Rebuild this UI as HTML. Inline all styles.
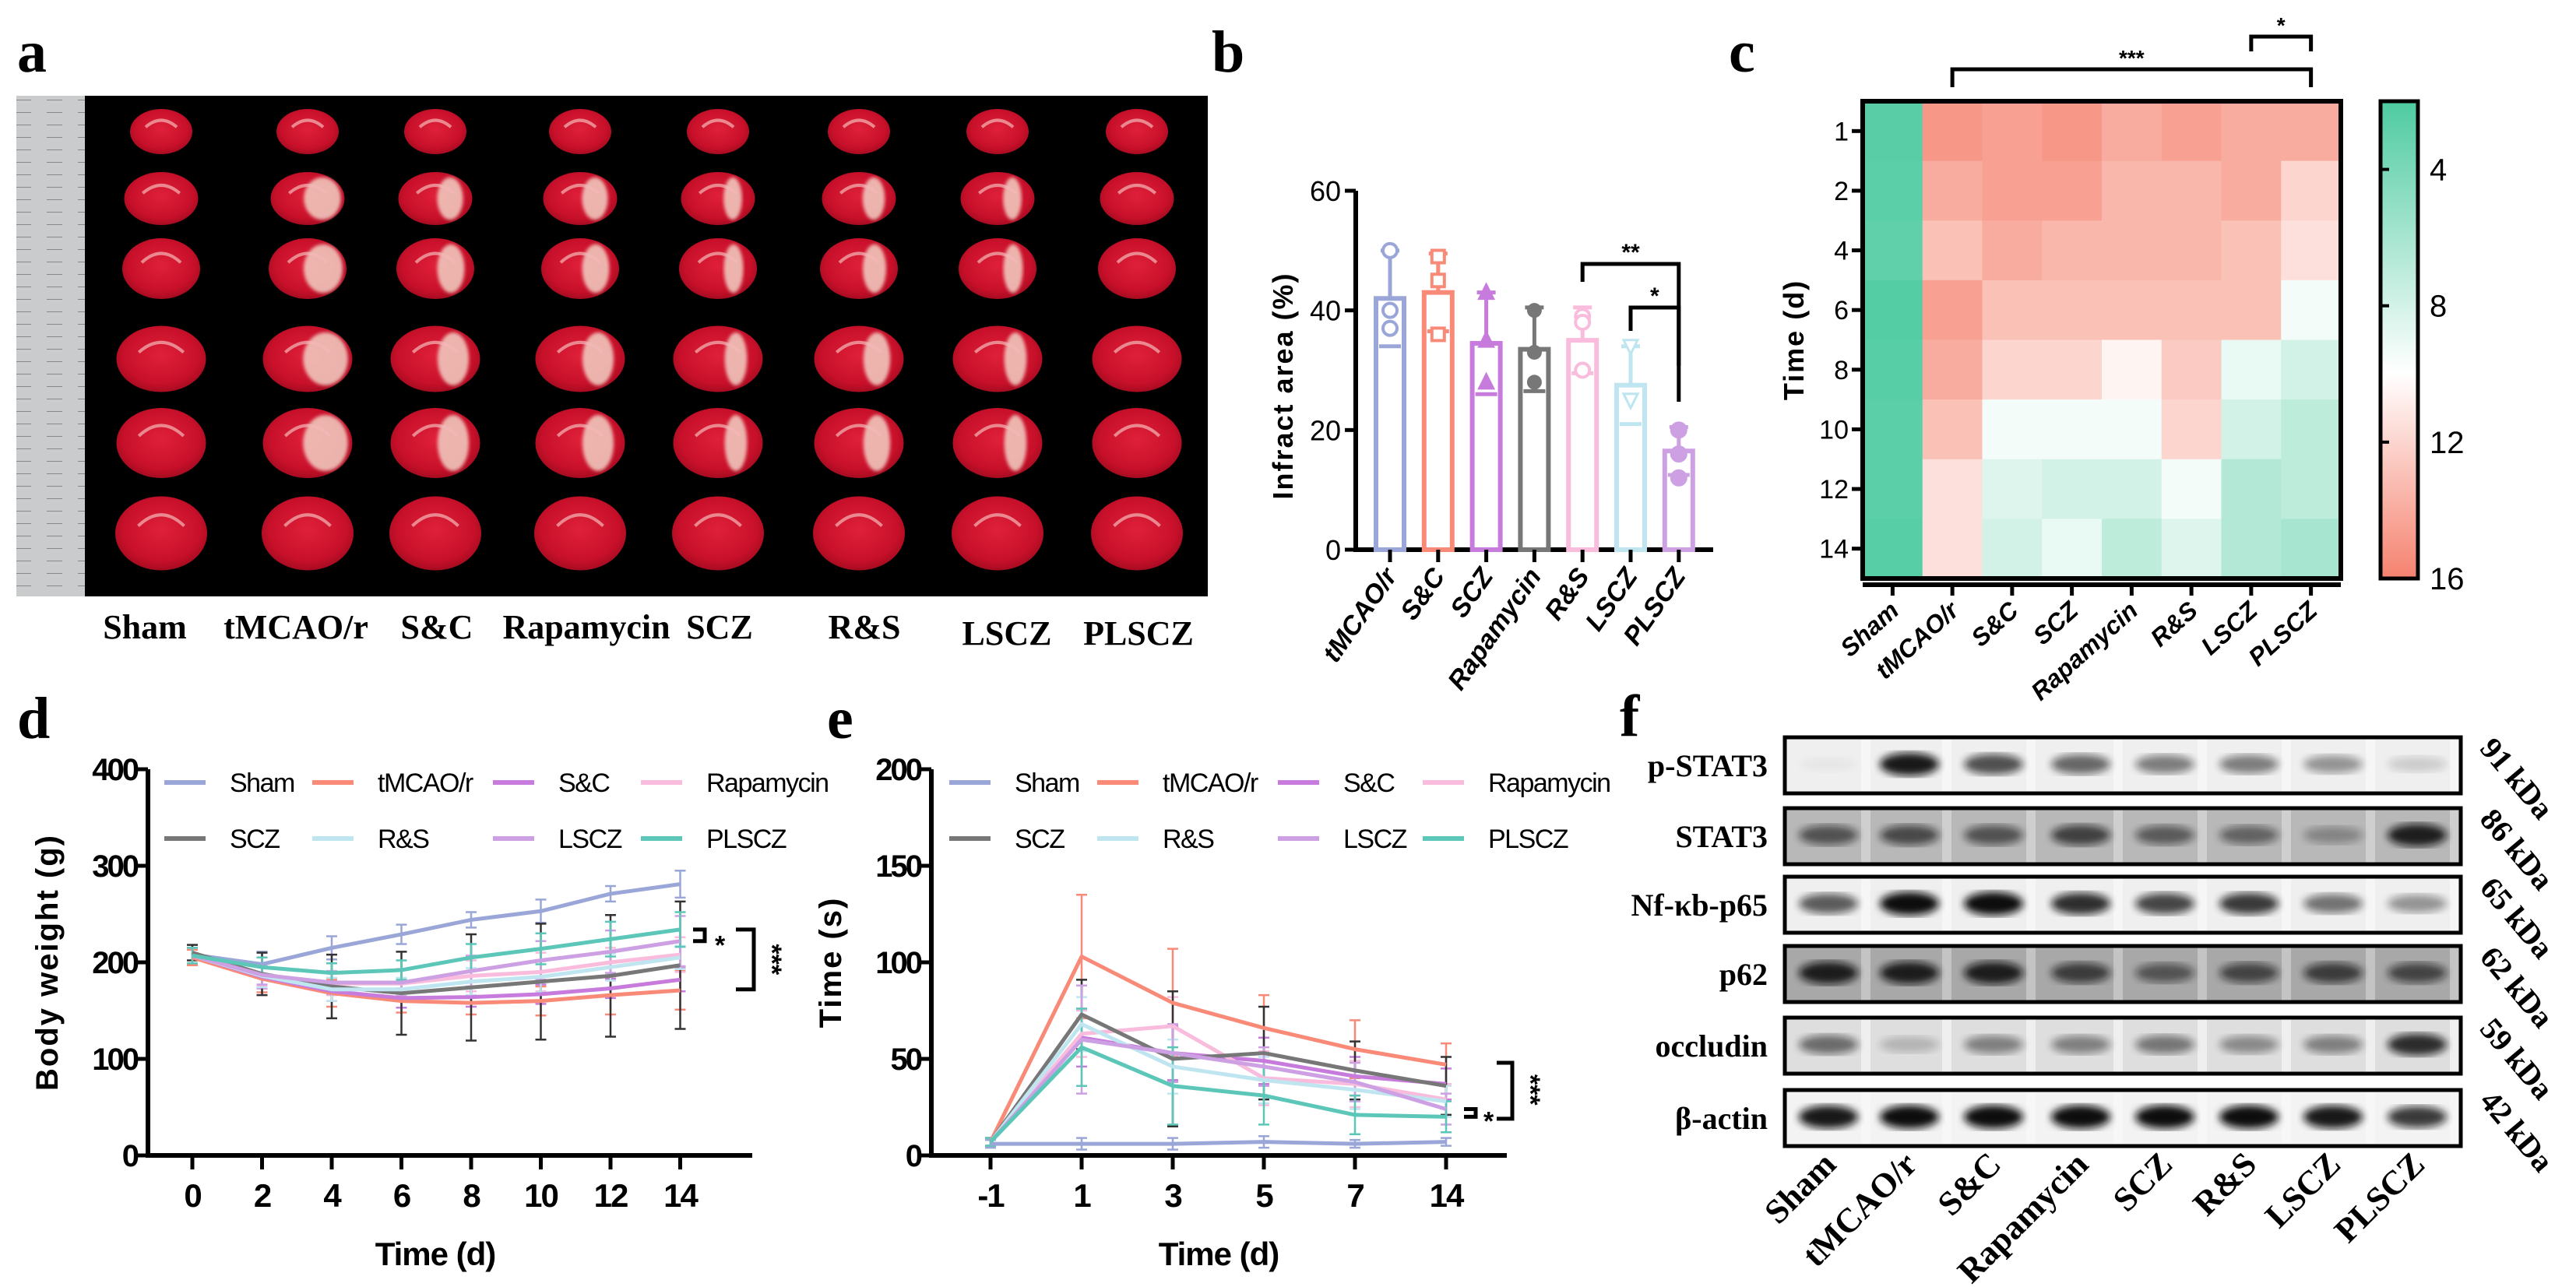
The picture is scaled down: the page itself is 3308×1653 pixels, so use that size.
<!DOCTYPE html>
<html><head><meta charset="utf-8"><style>
html,body{margin:0;padding:0;background:#fff;}
svg{display:block;}
text{font-family:"Liberation Sans",sans-serif;}
.serif{font-family:"Liberation Serif",serif;font-weight:bold;}
</style></head><body>
<svg id="fig" xmlns="http://www.w3.org/2000/svg" width="3308" height="1653" viewBox="0 0 3308 1653">
<defs>
<radialGradient id="brainG" cx="50%" cy="45%" r="60%"><stop offset="0" stop-color="#e0203a"/><stop offset="0.7" stop-color="#c8102a"/><stop offset="1" stop-color="#9a0a1e"/></radialGradient>
<linearGradient id="cbar" x1="0" y1="0" x2="0" y2="1"><stop offset="0" stop-color="#4ecba0"/><stop offset="0.57" stop-color="#ffffff"/><stop offset="1" stop-color="#f5826f"/></linearGradient>
<filter id="blur4"><feGaussianBlur stdDeviation="5"/></filter>
<filter id="blur2"><feGaussianBlur stdDeviation="2"/></filter>
<pattern id="ruler" width="40" height="16" patternUnits="userSpaceOnUse"><rect width="40" height="16" fill="#c9cbcc"/><line x1="20" y1="0" x2="40" y2="0" stroke="#888" stroke-width="2"/></pattern>
</defs>
<g id="panelA">
<text class="serif" x="22" y="92" font-size="76">a</text>
<rect x="21" y="123" width="1530" height="643" fill="#000"/>
<rect x="21" y="123" width="88" height="643" fill="url(#ruler)"/>
</g>
<g id="panelB"><text class="serif" x="1556" y="92" font-size="76">b</text></g>
<g id="panelC"><text class="serif" x="2220" y="92" font-size="76">c</text></g>
<g id="panelD"><text class="serif" x="22" y="948" font-size="76">d</text></g>
<g id="panelE"><text class="serif" x="1062" y="948" font-size="76">e</text></g>
<g id="panelF"><text class="serif" x="2080" y="945" font-size="76">f</text></g>
</svg>
<script>
const NS='http://www.w3.org/2000/svg';
function mk(tag,attrs,parent){const e=document.createElementNS(NS,tag);for(const k in attrs)e.setAttribute(k,attrs[k]);parent.appendChild(e);return e;}
const groups=['Sham','tMCAO/r','S&C','Rapamycin','SCZ','R&S','LSCZ','PLSCZ'];
const colors=['#9aa6d8','#f98a78','#c77bdc','#f9bcdc','#777777','#bfe6f0','#cda0e4','#5cc7b8'];

/* ---------- Panel A: brain photo ---------- */
const gA=document.getElementById('panelA');
const brainCols=[207,395,559,745,922,1103,1281,1460];
const brainRows=[169,255,345,461,569,685];
const brainW=[80,95,100,115,115,118];
const brainH=[58,68,78,85,90,95];
const infarct=[0,1,0.7,0.7,0.5,0.6,0.5,0.3];
for(let c=0;c<8;c++){for(let r=0;r<6;r++){
 const cx=brainCols[c],cy=brainRows[r];
 const b=mk('ellipse',{cx:cx,cy:cy,rx:brainW[r]/2,ry:brainH[r]/2,fill:'url(#brainG)'},gA);
 
 
 if(infarct[c]>0.4&&r>0&&r<5){
  const p=mk('ellipse',{cx:cx+brainW[r]*0.2,cy:cy,rx:brainW[r]*0.25*infarct[c],ry:brainH[r]*0.4,fill:'#f2d0c4',opacity:0.85,filter:'url(#blur2)'},gA);
  
  
 }
 const l=mk('path',{d:`M${cx-brainW[r]*0.25} ${cy-brainH[r]*0.1} q${brainW[r]*0.25} ${-brainH[r]*0.3} ${brainW[r]*0.5} 0`,stroke:'#f3b8b8',"stroke-width":4,fill:'none',opacity:0.7},gA);
 
 
}}
const aLabelX=[186,380,561,753,924,1110,1293,1462];
const aLabelY=[820,820,820,820,820,820,828,828];
for(let i=0;i<8;i++){
 const t=mk('text',{x:aLabelX[i],y:aLabelY[i],'text-anchor':'middle','font-size':44,class:'serif'},gA);
 t.textContent=groups[i];
 
 
}

/* ---------- Panel B: bar chart ---------- */
const bCats=['tMCAO/r','S&C','SCZ','Rapamycin','R&S','LSCZ','PLSCZ'];
const bMeans=[42,43,34.5,33.5,35,27.5,16.5];
const bSD=[8,6.5,8.5,7,5.5,6.5,4];
const bPts=[[50,40,37],[49,45,36],[43,35,28],[40,33,28],[39,38,30],[34,25,25],[20,16,12]];
const bTicks=[0,20,40,60];
const gB=document.getElementById('panelB');
const bX0=1785,bStep=61.8,bY0=706,bYtop=245;
const yB=v=>bY0-v/60*(bY0-bYtop);
const xB=i=>bX0+i*bStep;
let e=mk('path',{d:`M1741 ${bYtop} V${bY0} H2200`,stroke:'#000','stroke-width':6,fill:'none'},gB);


bTicks.forEach(v=>{
 const l=mk('line',{x1:1727,x2:1741,y1:yB(v),y2:yB(v),stroke:'#000','stroke-width':5},gB);
 
 
 const t=mk('text',{x:1722,y:yB(v)+13,'text-anchor':'end','font-size':36},gB);
 t.textContent=v;
 
 
});
e=mk('text',{x:0,y:0,'text-anchor':'middle','font-size':36,'font-weight':'bold',transform:`translate(1660,${(bY0+bYtop)/2+20}) rotate(-90)`,'letter-spacing':2},gB);
e.textContent='Infract area (%)';


const bCol=['#9aa6d8','#f98a78','#c77bdc','#777777','#f9bcdc','#bfe6f0','#cda0e4'];
const markers=['circle','square','tri','diamond','circle','trid','circlef'];
bCats.forEach((c,i)=>{
 const x=xB(i),col=bCol[i];
 const r=mk('rect',{x:x-18,y:yB(bMeans[i]),width:36,height:bY0-yB(bMeans[i]),fill:'#fff',stroke:col,'stroke-width':6},gB);
 
 
 const eb=mk('path',{d:`M${x} ${yB(bMeans[i])} V${yB(bMeans[i]+bSD[i])} M${x-12} ${yB(bMeans[i]+bSD[i])} H${x+12} M${x-14} ${yB(bMeans[i]-bSD[i])} H${x+14}`,stroke:col,'stroke-width':5,fill:'none'},gB);
 
 
 bPts[i].forEach(p=>{
  const y=yB(p);let m;
  if(markers[i]==='square')m=mk('rect',{x:x-8,y:y-8,width:16,height:16,fill:'#fff',stroke:col,'stroke-width':4},gB);
  else if(markers[i]==='tri')m=mk('path',{d:`M${x} ${y-10} L${x+9} ${y+8} L${x-9} ${y+8}Z`,fill:col,stroke:col,'stroke-width':3},gB);
  else if(markers[i]==='trid')m=mk('path',{d:`M${x} ${y+10} L${x+9} ${y-8} L${x-9} ${y-8}Z`,fill:'#fff',stroke:col,'stroke-width':3},gB);
  else if(markers[i]==='diamond')m=mk('circle',{cx:x,cy:y,r:8,fill:col,stroke:col,'stroke-width':3},gB);
  else m=mk('circle',{cx:x,cy:y,r:9,fill:markers[i]==='circlef'?col:'#fff',stroke:col,'stroke-width':4},gB);
  
  
 });
 const tk=mk('line',{x1:x,x2:x,y1:bY0,y2:bY0+16,stroke:'#000','stroke-width':5},gB);
 
 
 const t=mk('text',{x:0,y:0,'text-anchor':'end','font-size':34,'font-weight':'bold','font-style':'italic',transform:`translate(${x+10},${bY0+34}) rotate(-55)`},gB);
 t.textContent=c;
 
 
});
e=mk('path',{d:`M${xB(4)} 362 V339 H${xB(6)} V470`,stroke:'#000','stroke-width':5,fill:'none'},gB);


e=mk('text',{x:(xB(4)+xB(6))/2,y:334,'text-anchor':'middle','font-size':30,'font-weight':'bold'},gB);e.textContent='**';


e=mk('path',{d:`M${xB(5)} 425 V395 H${xB(6)} V516`,stroke:'#000','stroke-width':5,fill:'none'},gB);


e=mk('text',{x:(xB(5)+xB(6))/2,y:390,'text-anchor':'middle','font-size':30,'font-weight':'bold'},gB);e.textContent='*';



/* ---------- Panel C: heatmap ---------- */
const hCols=['Sham','tMCAO/r','S&C','SCZ','Rapamycin','R&S','LSCZ','PLSCZ'];
const hRows=['1','2','4','6','8','10','12','14'];
const hVals=[
 [2.5,15,14.5,15,14,14.5,14,14],
 [2.6,14,14.5,14.5,13.5,13.5,14,12],
 [2.8,13,14,13.5,13.5,13.5,13,11.5],
 [2.3,14.5,13,13,13,13,13,9.5],
 [2.4,14,12,12,10.5,12.5,9,8],
 [2.6,13,9.5,9.5,9.5,12,8,7],
 [2.6,11.5,8.5,8,8,9.5,6.5,7],
 [2.4,11.5,8,9,7,8.5,6.5,6]];
const cbTicks=[4,8,12,16];
const gC=document.getElementById('panelC');
const hx0=2392,hy0=130,hw=614,hh=613,cw=hw/8,ch=hh/8;
function hcol(v){
 const lerp=(a,b,t)=>Math.round(a+(b-a)*t);
 if(v<=10){const t=Math.max(0,(v-2)/8);return `rgb(${lerp(78,255,t)},${lerp(203,255,t)},${lerp(160,255,t)})`;}
 const t=Math.min(1,(v-10)/6);return `rgb(${lerp(255,245,t)},${lerp(255,130,t)},${lerp(255,111,t)})`;
}
hVals.forEach((row,r)=>row.forEach((v,c)=>{
 const cell=mk('rect',{x:hx0+c*cw,y:hy0+r*ch,width:cw+0.5,height:ch+0.5,fill:hcol(v)},gC);
 
 
}));
e=mk('rect',{x:hx0,y:hy0,width:hw,height:hh,fill:'none',stroke:'#000','stroke-width':6},gC);


hRows.forEach((lab,r)=>{
 const y=hy0+(r+0.5)*ch;
 const l=mk('line',{x1:hx0-14,x2:hx0,y1:y,y2:y,stroke:'#000','stroke-width':5},gC);
 
 
 const t=mk('text',{x:hx0-18,y:y+12,'text-anchor':'end','font-size':34},gC);t.textContent=lab;
 
 
});
hCols.forEach((lab,c)=>{
 const x=hx0+(c+0.5)*cw;
 const l=mk('line',{x1:x,x2:x,y1:hy0+hh+6,y2:hy0+hh+22,stroke:'#000','stroke-width':5},gC);
 
 
 const t=mk('text',{x:0,y:0,'text-anchor':'end','font-size':32,'font-weight':'bold','font-style':'italic',transform:`translate(${x+10},${hy0+hh+44}) rotate(-42)`},gC);t.textContent=lab;
 
 
});
e=mk('path',{d:`M${hx0} ${hy0+hh+8} H${hx0+hw}`,stroke:'#000','stroke-width':6},gC);


e=mk('text',{x:0,y:0,'text-anchor':'middle','font-size':36,'font-weight':'bold','letter-spacing':2,transform:`translate(2316,${hy0+hh/2}) rotate(-90)`},gC);e.textContent='Time (d)';


e=mk('rect',{x:3057,y:hy0,width:48,height:hh,fill:'url(#cbar)',stroke:'#000','stroke-width':5},gC);


const cbY=v=>hy0+(v-2)/14*hh;
cbTicks.forEach(v=>{
 const l=mk('line',{x1:3057,x2:3068,y1:cbY(v),y2:cbY(v),stroke:'#000','stroke-width':4},gC);
 
 
 const t=mk('text',{x:3120,y:cbY(v)+14,'font-size':40},gC);t.textContent=v;
 
 
});
const cmx=i=>hx0+(i+0.5)*cw;
e=mk('path',{d:`M${cmx(1)} 112 V89 H${cmx(7)} V112`,stroke:'#000','stroke-width':5,fill:'none'},gC);


e=mk('text',{x:(cmx(1)+cmx(7))/2,y:84,'text-anchor':'middle','font-size':28,'font-weight':'bold'},gC);e.textContent='***';


e=mk('path',{d:`M${cmx(6)} 66 V47 H${cmx(7)} V66`,stroke:'#000','stroke-width':5,fill:'none'},gC);


e=mk('text',{x:(cmx(6)+cmx(7))/2,y:42,'text-anchor':'middle','font-size':28,'font-weight':'bold'},gC);e.textContent='*';



/* ---------- Panel D: body weight ---------- */
const dX=['0','2','4','6','8','10','12','14'];
const dYTicks=[0,100,200,300,400];
const dSham=[208,198,215,229,244,253,271,281];
const dTmcao=[205,183,168,160,158,160,166,171];
const dSC=[207,185,170,163,164,167,173,182];
const dRapa=[207,186,178,178,186,190,200,208];
const dSCZ=[210,188,175,168,174,180,186,197];
const dRS=[207,186,172,172,180,185,195,205];
const dLSCZ=[207,187,179,179,191,202,211,222];
const dPLSCZ=[207,195,189,192,205,214,224,234];
const dErr=[
 [10,13,12,10,8,12,8,14],
 [8,14,14,12,12,15,20,20],
 [8,12,10,10,10,10,10,12],
 [8,10,12,14,16,20,15,18],
 [8,22,33,43,55,60,63,66],
 [8,12,12,12,14,16,14,12],
 [8,10,12,14,16,20,22,26],
 [8,10,10,10,14,16,18,18]];
const dSeries=[dSham,dTmcao,dSC,dRapa,dSCZ,dRS,dLSCZ,dPLSCZ];

/* ---------- Panel E: latency ---------- */
const eX=['-1','1','3','5','7','14'];
const eYTicks=[0,50,100,150,200];
const eSham=[6,6,6,7,6,7];
const eTmcao=[7,103,79,66,55,47];
const eSC=[7,61,53,49,41,37];
const eRapa=[7,63,67,40,37,29];
const eSCZ=[7,73,50,53,44,36];
const eRS=[7,68,46,39,34,28];
const eLSCZ=[7,60,53,46,38,24];
const ePLSCZ=[7,56,36,31,21,20];
const eErr=[
 [2,3,3,3,2,2],
 [2,32,28,17,15,11],
 [2,15,14,12,10,8],
 [2,12,15,14,12,8],
 [2,18,35,24,15,15],
 [2,14,14,12,10,8],
 [2,28,15,10,10,8],
 [2,20,20,15,10,8]];
const eSeries=[eSham,eTmcao,eSC,eRapa,eSCZ,eRS,eLSCZ,ePLSCZ];

function lineChart(g,cfg){
 const {ax,ay0,ay1,axEnd,x0,xStep,yMax,xLabels,yTicks,series,errs,pref,legX,ytitle}=cfg;
 const yS=v=>ay0-v/yMax*(ay0-ay1);
 const xS=i=>x0+i*xStep;
 let a=mk('path',{d:`M${ax} ${ay1} V${ay0} H${axEnd}`,stroke:'#000','stroke-width':6,fill:'none'},g);
 
 
 yTicks.forEach(v=>{
  const l=mk('line',{x1:ax-16,x2:ax,y1:yS(v),y2:yS(v),stroke:'#000','stroke-width':5},g);
  
  
  const t=mk('text',{x:ax-14,y:yS(v)+14,'text-anchor':'end','font-size':40,'font-weight':'bold','letter-spacing':-3},g);t.textContent=v;
  
  
 });
 xLabels.forEach((lab,i)=>{
  const l=mk('line',{x1:xS(i),x2:xS(i),y1:ay0,y2:ay0+18,stroke:'#000','stroke-width':5},g);
  
  
  const t=mk('text',{x:xS(i),y:ay0+66,'text-anchor':'middle','font-size':42,'font-weight':'bold','letter-spacing':-2},g);t.textContent=lab;
  
  
 });
 series.forEach((s,k)=>{
  s.forEach((v,i)=>{
   const up=yS(v+errs[k][i]),dn=yS(v-errs[k][i]);
   const eb=mk('path',{d:`M${xS(i)} ${up} V${dn} M${xS(i)-7} ${up} H${xS(i)+7} M${xS(i)-7} ${dn} H${xS(i)+7}`,stroke:k===4?'#333':colors[k],'stroke-width':2.5,fill:'none'},g);
   
   
  });
 });
 series.forEach((s,k)=>{
  const p=mk('polyline',{points:s.map((v,i)=>xS(i)+','+yS(v)).join(' '),fill:'none',stroke:colors[k],'stroke-width':5,'stroke-linejoin':'round'},g);
  
  
 });
 groups.forEach((gname,k)=>{
  const lx=legX[k%4],ly=k<4?1005:1077;
  const l=mk('line',{x1:lx,x2:lx+53,y1:ly,y2:ly,stroke:colors[k],'stroke-width':6},g);
  
  
  const t=mk('text',{x:lx+84,y:ly+12,'font-size':34,'letter-spacing':-1.5},g);t.textContent=gname;
  
  
 });
 const yt=mk('text',{x:0,y:0,'text-anchor':'middle','font-size':40,'font-weight':'bold','letter-spacing':2,transform:`translate(${cfg.ytx},${(ay0+ay1)/2}) rotate(-90)`},g);yt.textContent=ytitle;
 
 
 const xt=mk('text',{x:cfg.xtx,y:1625,'text-anchor':'middle','font-size':42,'font-weight':'bold','letter-spacing':-1},g);xt.textContent='Time (d)';
 
 
 return yS;
}
const gD=document.getElementById('panelD');
const yD=lineChart(gD,{ax:190,ay0:1484,ay1:988,axEnd:966,x0:247,xStep:89.5,yMax:400,xLabels:dX,yTicks:dYTicks,series:dSeries,errs:dErr,pref:'d',legX:[211,401,633,823],ytitle:'Body weight (g)',ytx:74,xtx:559});
e=mk('path',{d:`M890 ${yD(dPLSCZ[7])} H905 V${yD(dLSCZ[7])} H890`,stroke:'#000','stroke-width':5,fill:'none'},gD);


e=mk('text',{x:918,y:yD(228)+24,'font-size':34,'font-weight':'bold'},gD);e.textContent='*';


e=mk('path',{d:`M945 ${yD(234)} H968 V${yD(172)} H945`,stroke:'#000','stroke-width':5,fill:'none'},gD);


e=mk('text',{x:0,y:0,'font-size':34,'font-weight':'bold','text-anchor':'middle',transform:`translate(980,${yD(203)}) rotate(90)`},gD);e.textContent='***';



const gE=document.getElementById('panelE');
const yE=lineChart(gE,{ax:1196,ay0:1484,ay1:988,axEnd:1935,x0:1272,xStep:117,yMax:200,xLabels:eX,yTicks:eYTicks,series:eSeries,errs:eErr,pref:'e',legX:[1219,1409,1641,1827],ytitle:'Time (s)',ytx:1080,xtx:1565});
e=mk('path',{d:`M1880 ${yE(ePLSCZ[5])} H1895 V${yE(eLSCZ[5])} H1880`,stroke:'#000','stroke-width':5,fill:'none'},gE);


e=mk('text',{x:1905,y:yE(22)+22,'font-size':34,'font-weight':'bold'},gE);e.textContent='*';


e=mk('path',{d:`M1922 ${yE(48)} H1942 V${yE(19)} H1922`,stroke:'#000','stroke-width':5,fill:'none'},gE);


e=mk('text',{x:0,y:0,'font-size':34,'font-weight':'bold','text-anchor':'middle',transform:`translate(1954,${yE(34)}) rotate(90)`},gE);e.textContent='***';



/* ---------- Panel F: western blots ---------- */
const fRows=['p-STAT3','STAT3','Nf-κb-p65','p62','occludin','β-actin'];
const fKda=['91 kDa','86 kDa','65 kDa','62 kDa','59 kDa','42 kDa'];
const fBand=[
 [0.03,0.95,0.7,0.6,0.5,0.5,0.4,0.15],
 [0.6,0.65,0.6,0.7,0.55,0.5,0.3,0.9],
 [0.65,1,1,0.85,0.75,0.8,0.55,0.4],
 [0.9,0.9,0.9,0.7,0.55,0.65,0.7,0.65],
 [0.55,0.2,0.45,0.45,0.5,0.4,0.45,0.85],
 [0.95,1,1,1,1,1,0.95,0.8]];
const fBg=['#efefef','#b8b8b8','#efefef','#a8a8a8','#dedede','#f3f3f3'];
const fTop=[947,1038,1126,1215,1307,1400];
const gF=document.getElementById('panelF');
const laneX=[2348,2452,2560,2672,2780,2888,2996,3104];
fRows.forEach((name,r)=>{
 const y=fTop[r],h=72;
 const bg=mk('rect',{x:2292,y:y,width:868,height:h,fill:fBg[r]},gF);
 
 
 laneX.forEach((lx,i)=>{
  const gap=mk('rect',{x:lx+42,y:y,width:12,height:h,fill:'#fafafa',opacity:r===1||r===3?0.35:0.6},gF);
  
  
  const b=mk('ellipse',{cx:lx,cy:y+h*0.48,rx:38,ry:9+fBand[r][i]*6,fill:'#111',opacity:fBand[r][i],filter:'url(#blur4)'},gF);
  
  
 });
 const fr=mk('rect',{x:2292,y:y,width:868,height:h,fill:'none',stroke:'#000','stroke-width':5},gF);
 
 
 const t=mk('text',{x:2270,y:y+h/2+14,'text-anchor':'end','font-size':40,class:'serif'},gF);t.textContent=name;
 
 
 const k=mk('text',{x:0,y:0,'font-size':40,class:'serif',transform:`translate(3183,${y+15}) rotate(50)`},gF);k.textContent=fKda[r];
 
 
});
groups.forEach((gname,i)=>{
 const t=mk('text',{x:0,y:0,'text-anchor':'end','font-size':44,class:'serif',transform:`translate(${laneX[i]+12},${1498}) rotate(-45)`},gF);t.textContent=gname;
 
 
});
</script>
</body></html>
